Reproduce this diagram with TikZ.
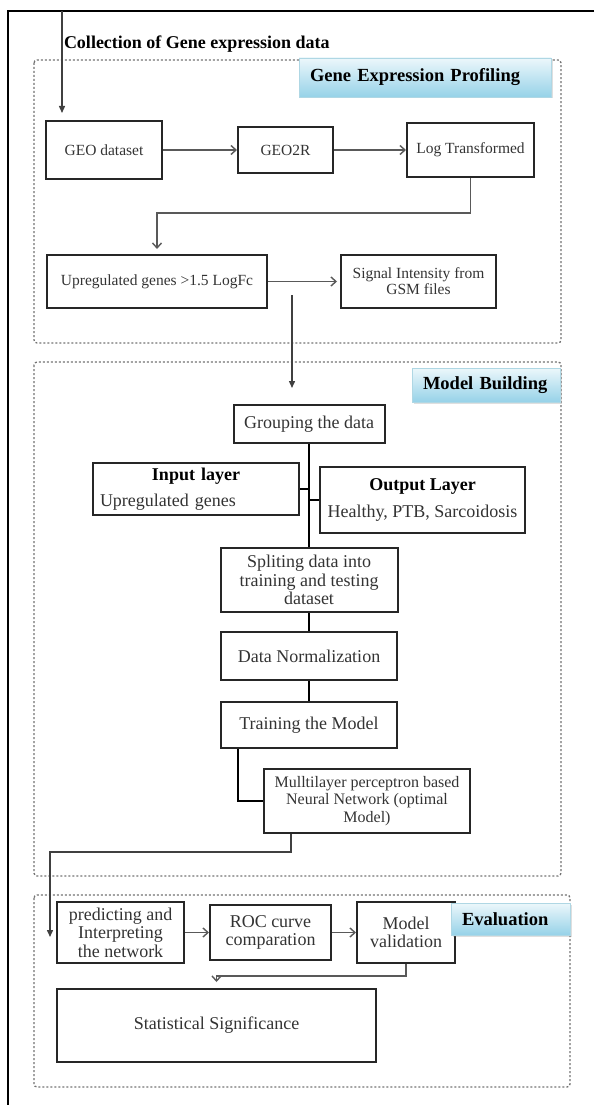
\documentclass[tikz,border=0pt]{standalone}
\usepackage{fontspec}
\setmainfont{Liberation Serif}
\usetikzlibrary{arrows.meta,shadows}

\begin{document}
\begin{tikzpicture}[x=1pt, y=-1pt,
    every node/.style = {draw=black!85, line width=2pt, shape=rectangle, inner sep=0pt, align=center, text=black!80},
    small/.style = {font=\fontsize{15.5}{16}\selectfont},
    big/.style = {font=\fontsize{18}{18.5}\selectfont},
    title/.style = {draw={rgb,255:red,175;green,215;blue,228}, line width=0.6pt,
        top color={rgb,255:red,236;green,247;blue,251}, bottom color={rgb,255:red,150;green,210;blue,232},
        text=black, align=left, inner xsep=11pt, font=\fontsize{18.5}{19}\selectfont\bfseries,
        drop shadow={opacity=0.25, shadow xshift=1.5pt, shadow yshift=-1.5pt}},
    group/.style = {draw=black!55, line width=1.3pt, dash pattern=on 2pt off 2pt, rounded corners=3pt},
    flow/.style = {draw=black!65, line width=1.4pt, -{Straight Barb[length=5pt, width=9pt]}},
    link/.style = {draw=black, line width=2.6pt},
    feed/.style = {draw=black!75, line width=1.4pt, -{Triangle[length=7pt, width=6pt]}}]

\useasboundingbox (0,0) rectangle (594,1105);

% dotted frames of the three stages
\draw[group] (34,60) rectangle (561,343);
\draw[group] (34,362) rectangle (561,876);
\draw[group] (34,895) rectangle (570,1087);

\draw[line width=2pt, black] (594,11) -- (7.6,11) -- (7.6,1105);

\node (coll) [draw=none, anchor=west, text=black, font=\fontsize{18}{18}\selectfont\bfseries] at (63,44) {Collection of Gene expression data};

% gene expression profiling
\node (geo) [small, minimum width=116pt, minimum height=58pt] at (104,150) {GEO dataset};
\node (geo2r) [small, minimum width=95pt, minimum height=46pt] at (285.5,150) {GEO2R};
\node (logt) [small, minimum width=127pt, minimum height=54pt] at (470.5,150) {Log Transformed};
\node (upreg) [small, minimum width=220pt, minimum height=53pt] at (157,281.5) {Upregulated genes >1.5 LogFc};
\node (signal) [small, minimum width=155pt, minimum height=53pt] at (418.5,281.5) {Signal Intensity from\\GSM files};

% model building
\node (group) [big, minimum width=151pt, minimum height=38pt] at (309,424) {Grouping the data};
\node (inlayer) [big, minimum width=206pt, minimum height=52pt, text width=192pt, align=left] at (196,489)
    {\makebox[\linewidth]{\textcolor{black}{\textbf{Input layer}}}\\[7.5pt]Upregulated genes};
\node (outlayer) [big, minimum width=205pt, minimum height=66pt] at (422.5,500)
    {\textcolor{black}{\textbf{Output Layer}}\\[8.5pt]Healthy, PTB, Sarcoidosis};
\node (split) [big, minimum width=177pt, minimum height=64pt] at (309,580) {Spliting data into\\training and testing\\dataset};
\node (norm) [big, minimum width=176pt, minimum height=48pt] at (309,656) {Data Normalization};
\node (train) [big, minimum width=176pt, minimum height=46pt] at (309,725) {Training the Model};
\node (mlp) [font=\fontsize{16}{17.5}\selectfont, minimum width=206pt, minimum height=64pt] at (367,801)
    {Mulltilayer perceptron based\\Neural Network (optimal\\Model)};

% evaluation
\node (pred) [big, minimum width=127pt, minimum height=61pt] at (120.5,932.5) {predicting and\\Interpreting\\the network};
\node (roc) [big, minimum width=121pt, minimum height=55pt] at (270.5,932.5) {ROC curve\\comparation};
\node (valid) [big, minimum width=98pt, minimum height=61pt] at (406,932.5) {Model\\validation};
\node (stat) [big, minimum width=319pt, minimum height=73pt] at (216.5,1025.5) {Statistical Significance};

\node (t1) [title, minimum width=252pt, minimum height=39pt, text width=230pt] at (425,77.5) {Gene Expression Profiling};
\node (t2) [title, minimum width=148pt, minimum height=34pt, text width=126pt] at (486,385) {Model Building};
\node (t3) [title, minimum width=119pt, minimum height=32pt, text width=97pt] at (510.5,919) {Evaluation};

\coordinate (src) at (62,11);
\coordinate (srcend) at (62,113);
\coordinate (drop) at (292,295);
\coordinate (dropend) at (292,388);
\coordinate (predin) at (50,937);

\draw[feed] (src) -- (srcend);
\draw[flow] (geo) -- (geo2r);
\draw[flow] (geo2r) -- (logt);
\draw[flow, shorten >=5pt] (logt.south) -- ++(0,35) -| (upreg.north);
\draw[flow, shorten >=3pt] (upreg) -- (signal);
\draw[feed] (drop) -- (dropend);

\draw[link] (group) -- (split);
\draw[link] (inlayer.east) -- (inlayer.east -| group.south);
\draw[link] (outlayer.west) -- (outlayer.west -| group.south);
\draw[link] (split) -- (norm);
\draw[link] (norm) -- (train);
\draw[link] ([xshift=18pt]train.south west) |- (mlp.west);

\draw[feed] ([xshift=28pt]mlp.south west) -- ++(0,18) -| (predin);
\draw[flow] (pred) -- (roc);
\draw[flow] (roc) -- (valid);
\draw[flow, shorten >=6pt] (valid.south) -- ++(0,12) -| (stat.north);
\end{tikzpicture}
\end{document}
